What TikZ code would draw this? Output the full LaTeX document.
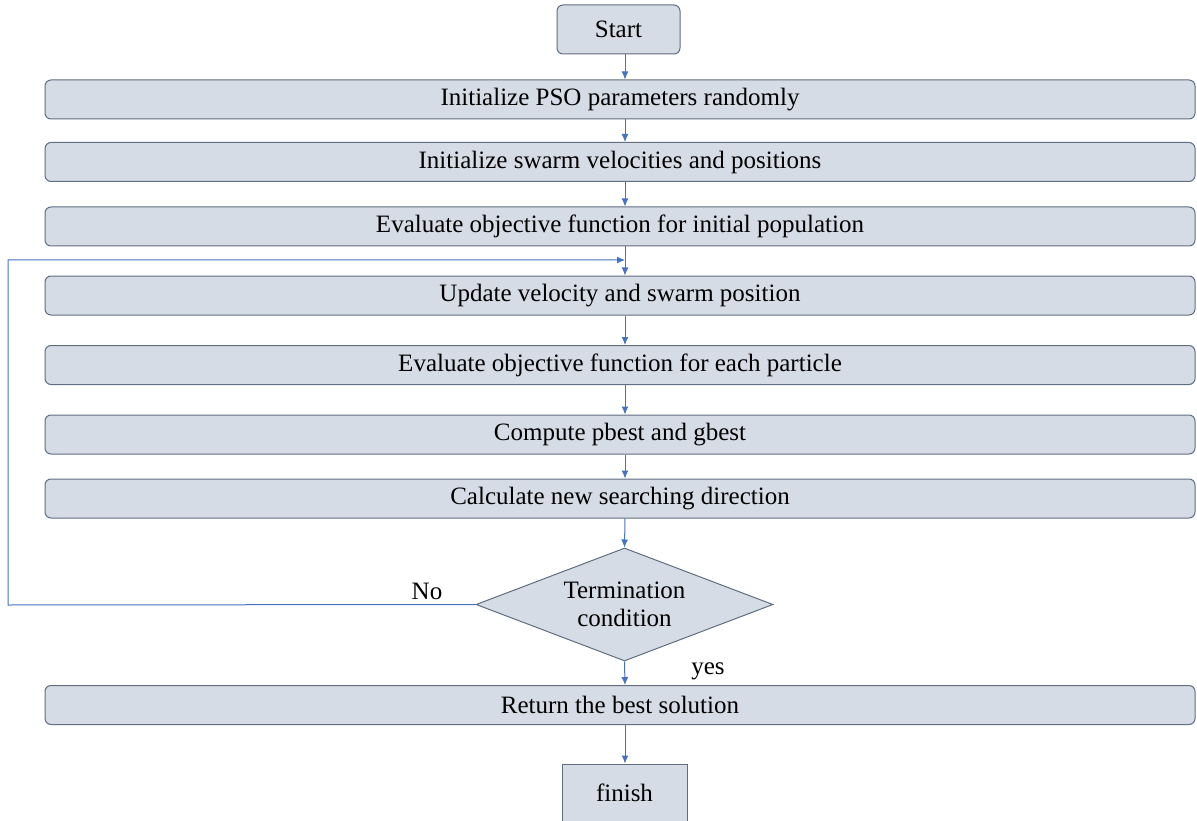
\documentclass[tikz,border=0pt]{standalone}
\usepackage{fontspec}
\setmainfont{Liberation Serif}
\usetikzlibrary{shapes.geometric,arrows.meta}
\definecolor{boxfill}{HTML}{D6DCE5}
\definecolor{boxdraw}{HTML}{5F6E80}
\definecolor{arr}{HTML}{4472C4}
\begin{document}
\begin{tikzpicture}[x=1pt,y=-1pt,
  every node/.style={font=\fontsize{25}{28}\selectfont},
  procbox/.style={draw=boxdraw,fill=boxfill,line width=1pt,rounded corners=6pt,minimum width=1150pt,minimum height=39pt,inner sep=0pt},
  termbox/.style={draw=boxdraw,fill=boxfill,line width=1pt,rounded corners=6pt,minimum width=123pt,minimum height=49pt,inner sep=0pt},
  endbox/.style={draw=boxdraw,fill=boxfill,line width=1pt,minimum width=125pt,minimum height=57pt,inner sep=0pt},
  decbox/.style={draw=boxdraw,fill=boxfill,line width=1pt,diamond,aspect=2.63,minimum width=297pt,minimum height=113pt,inner sep=0pt,align=center,font=\fontsize{25}{28}\selectfont},
  conn/.style={draw=arr,line width=1pt,-{Latex[length=8pt,width=7pt]}}
]
\useasboundingbox (0,0) rectangle (1197,821);
\node[termbox] (start) at (618.5,29.5) {Start};
\node[procbox] (b1) at (620,99.5) {Initialize PSO parameters randomly};
\node[procbox] (b2) at (620,162) {Initialize swarm velocities and positions};
\node[procbox] (b3) at (620,226.5) {Evaluate objective function for initial population};
\node[procbox] (b4) at (620,295.5) {Update velocity and swarm position};
\node[procbox] (b5) at (620,365) {Evaluate objective function for each particle};
\node[procbox] (b6) at (620,434.5) {Compute pbest and gbest};
\node[procbox] (b7) at (620,498.5) {Calculate new searching direction};
\node[decbox] (dec) at (624.5,604.5) {Termination\\condition};
\node[procbox] (b8) at (620,705) {Return the best solution};
\node[endbox] (fin) at (624.5,792.5) {finish};
\node (no) at (427,591) {No};
\node (yes) at (708,671) {yes};
\coordinate (loopL) at (8,605);
\coordinate (loopT) at (8,260);
\coordinate (loopE) at (625,260);
\draw[conn] (start.south -| 625,0) -- (b1.north -| 625,0);
\draw[conn] (b1.south -| 625,0) -- (b2.north -| 625,0);
\draw[conn] (b2.south -| 625,0) -- (b3.north -| 625,0);
\draw[conn] (b3.south -| 625,0) -- (b4.north -| 625,0);
\draw[conn] (b4.south -| 625,0) -- (b5.north -| 625,0);
\draw[conn] (b5.south -| 625,0) -- (b6.north -| 625,0);
\draw[conn] (b6.south -| 625,0) -- (b7.north -| 625,0);
\draw[conn] (b7.south -| 625,0) -- (dec.north);
\draw[conn] (dec.south) -- (b8.north -| 625,0);
\draw[conn] (b8.south -| 625,0) -- (fin.north -| 625,0);
\draw[conn] (dec.west) -- (loopL) -- (loopT) -- (loopE);
\end{tikzpicture}
\end{document}
